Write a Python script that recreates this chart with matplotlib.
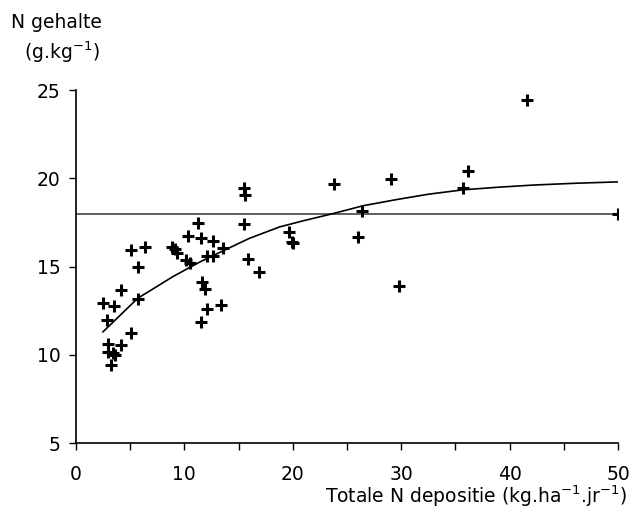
import numpy as np
import matplotlib.pyplot as plt
from matplotlib.ticker import MultipleLocator

plt.rcParams['font.family'] = ['DejaVu Sans']

# N depositie (kg/ha/jr) en N gehalte (g/kg) per meetpunt
depositie = [2.46, 2.89, 3.54, 4.12, 5.07, 6.37, 5.72, 5.72, 5.07, 2.92,
             2.98, 3.44, 4.21, 3.23, 3.6, 8.89, 9.13, 9.29, 10.36, 10.15,
             10.52, 11.28, 11.53, 12.67, 12.05, 12.61, 13.59, 11.59, 11.9, 12.11,
             13.41, 11.56, 15.53, 15.59, 15.5, 15.87, 16.91, 19.68, 19.9, 20.05,
             23.83, 26.38, 26.04, 29.03, 29.77, 35.67, 36.16, 41.58, 50.0]
gehalte = [12.91, 11.97, 12.78, 13.67, 15.93, 16.09, 14.99, 13.14, 11.25, 10.59,
           10.18, 10.12, 10.55, 9.44, 10.0, 16.09, 15.97, 15.79, 16.73, 15.37,
           15.18, 17.48, 16.63, 16.43, 15.61, 15.61, 16.05, 14.14, 13.71, 12.57,
           12.8, 11.84, 19.47, 19.05, 17.41, 15.44, 14.71, 16.97, 16.41, 16.31,
           19.67, 18.14, 16.69, 19.96, 13.9, 19.47, 20.43, 24.43, 18.0]

trend_x = [2.5, 5.7, 9.0, 11.4, 13.6, 16.0, 18.8, 21.0, 23.7, 26.5, 29.6, 32.5, 35.7, 39.0, 42.2, 46.0, 50.0]
trend_y = [11.3, 13.2, 14.45, 15.25, 15.9, 16.6, 17.25, 17.6, 18.0, 18.45, 18.8, 19.1, 19.35, 19.5, 19.62, 19.72, 19.8]

# grenswaarde
grens = 18

fig = plt.figure(figsize=(6.32, 5.30), dpi=100)
ax = fig.add_axes([0.120, 0.164, 0.858, 0.666])

ax.axhline(grens, color='#333333', lw=1.1)
ax.plot(trend_x, trend_y, color='black', lw=1.2)
ax.scatter(depositie, gehalte, marker='+', s=70, linewidths=2.2, color='black', zorder=3)

ax.set_xlim(0, 50)
ax.set_ylim(5, 25)
ax.xaxis.set_major_locator(MultipleLocator(10))
ax.xaxis.set_minor_locator(MultipleLocator(5))
ax.yaxis.set_major_locator(MultipleLocator(5))
ax.tick_params(axis='both', which='both', direction='out', length=5, width=1, labelsize=13.5, pad=11)
ax.tick_params(axis='y', pad=6)

for side in ['top', 'right']:
    ax.spines[side].set_visible(False)
for side in ['left', 'bottom']:
    ax.spines[side].set_linewidth(1.2)

fig.text(0.018, 0.958, 'N gehalte', fontsize=13.5, ha='left', va='center')
fig.text(0.038, 0.902, '(g.kg$^{\\mathregular{-1}}$)', fontsize=13.5, ha='left', va='center')
fig.text(0.993, 0.064, 'Totale N depositie (kg.ha$^{\\mathregular{-1}}$.jr$^{\\mathregular{-1}}$)',
         fontsize=13.5, ha='right', va='center')

fig.savefig('out.png', dpi=100)
